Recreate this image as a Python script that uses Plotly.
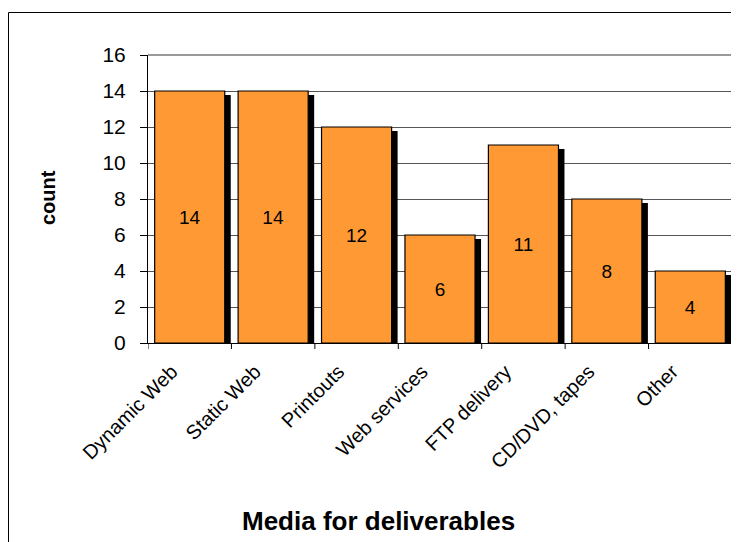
import plotly.graph_objects as go

categories = ["Dynamic Web", "Static Web", "Printouts", "Web services",
              "FTP delivery", "CD/DVD, tapes", "Other"]
counts = [14, 14, 12, 6, 11, 8, 4]

# page has an 8px body margin: work in page pixels, convert to figure pixels
PAGE_OFF = 8
W, H = 739 - PAGE_OFF, 542 - PAGE_OFF
plot_left, plot_top, plot_right, plot_bottom = 148, 55, 732, 343  # page px
L = plot_left - PAGE_OFF
T = plot_top - PAGE_OFF
R = (W + PAGE_OFF) - plot_right
B = (H + PAGE_OFF) - plot_bottom
plot_w = plot_right - plot_left
plot_h = plot_bottom - plot_top
y_max = 16
cat_px = plot_w / len(categories)
bar_w = 0.84
shadow_dx = 6 / cat_px            # in category units
shadow_dy = 4 * y_max / plot_h    # in data units


def px_x(px):
    return (px - plot_left) / plot_w


def px_y(py):
    return (plot_bottom - py) / plot_h


fig = go.Figure()
# shadow
fig.add_trace(go.Bar(
    x=list(range(len(categories))), y=counts,
    base=[-shadow_dy] * len(counts),
    width=bar_w, offset=-bar_w / 2 + shadow_dx,
    marker=dict(color="black", line=dict(width=0)),
    hoverinfo="skip", showlegend=False,
))
# bars
fig.add_trace(go.Bar(
    x=list(range(len(categories))), y=counts,
    width=bar_w, offset=-bar_w / 2,
    marker=dict(color="#FF9933", line=dict(color="black", width=1.2)),
    text=[str(v) for v in counts], textposition="inside",
    insidetextanchor="middle", textangle=0,
    textfont=dict(family="Liberation Sans, Arial", size=19, color="black"),
    showlegend=False,
))

fig.update_layout(
    width=W, height=H,
    margin=dict(l=L, r=R, t=T, b=B, autoexpand=False),
    paper_bgcolor="white", plot_bgcolor="white",
    barmode="overlay",
    font=dict(family="Liberation Sans, Arial", color="black"),
    xaxis=dict(
        tickmode="array", tickvals=list(range(len(categories))),
        ticktext=categories, range=[-0.5, len(categories) - 0.5],
        tickangle=-45, tickfont=dict(size=20), automargin=False,
        ticklabelshift=-18, ticklabelstandoff=8,
        showgrid=False, showline=True, linecolor="black", linewidth=1,
        ticks="", zeroline=False,
    ),
    yaxis=dict(
        range=[0, y_max], dtick=2, tick0=0, automargin=False,
        tickfont=dict(size=21), ticklabelstandoff=10,
        ticks="outside", ticklen=7, tickcolor="black",
        showgrid=True, gridcolor="#555555", gridwidth=1,
        showline=True, linecolor="black", linewidth=1,
        zeroline=False,
    ),
    shapes=[
        # plot area border (top/right gray)
        dict(type="line", xref="paper", yref="paper", x0=0, x1=1, y0=1, y1=1,
             line=dict(color="#999999", width=2)),
        dict(type="line", xref="paper", yref="paper", x0=1, x1=1, y0=0, y1=1,
             line=dict(color="#999999", width=2)),
        # outer chart frame
        dict(type="rect", xref="paper", yref="paper",
             x0=px_x(8.5), x1=px_x(770),
             y0=px_y(580), y1=px_y(12.5),
             line=dict(color="black", width=1), layer="below"),
    ] + [
        # category boundary ticks on x axis
        dict(type="line", xref="x", yref="paper", x0=i - 0.5, x1=i - 0.5,
             y0=0, y1=-6 / plot_h, line=dict(color="black", width=1))
        for i in range(len(categories) + 1)
    ],
    annotations=[
        dict(text="<b>count</b>", xref="paper", yref="paper",
             x=px_x(48), y=px_y(198),
             textangle=-90, showarrow=False, font=dict(size=20),
             xanchor="center", yanchor="middle"),
        dict(text="<b>Media for deliverables</b>", xref="paper", yref="paper",
             x=px_x(378), y=px_y(521),
             showarrow=False, font=dict(size=26),
             xanchor="center", yanchor="middle"),
    ],
)

fig.write_html("out.html")
